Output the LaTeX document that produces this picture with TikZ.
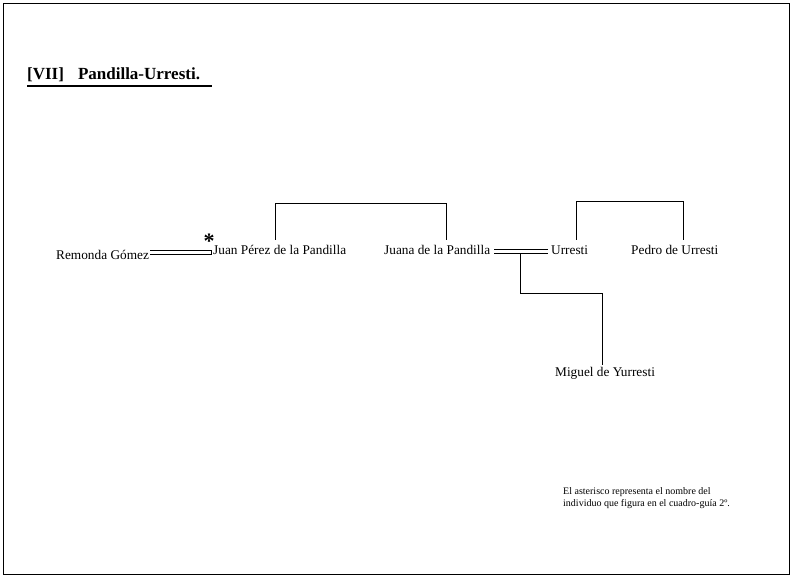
\documentclass[tikz,border=0pt]{standalone}
\usepackage{fontspec}
\setmainfont{Liberation Serif}
\begin{document}
\begin{tikzpicture}[x=1pt,y=-1pt,
  person/.style={inner sep=0pt,anchor=west,font=\fontsize{13.3}{15}\selectfont},
  link/.style={line width=0.6pt,black},
  note/.style={inner sep=0pt,anchor=north west,align=left,font=\fontsize{10}{12}\selectfont}]
\useasboundingbox (0,0) rectangle (792,577);
\draw[line width=0.8pt] (3,3) rectangle (789,574);
% title
\node[inner sep=0pt,anchor=south west,font=\bfseries\fontsize{17}{19}\selectfont] (title) at (27,82) {[VII]\hspace{14pt}Pandilla-Urresti.};
\draw[line width=1.5pt] (title.south west)++(0,4) -- ++(185,0);
% persons
\node[person] (remonda) at (56,255) {Remonda Gómez};
\node[person] (juan) at (213,250) {Juan Pérez de la Pandilla};
\node[person] (juana) at (384,250) {Juana de la Pandilla};
\node[person] (urresti) at (551,250) {Urresti};
\node[person] (pedro) at (631,250) {Pedro de Urresti};
\node[person] (miguel) at (555,373) {Miguel de Yurresti};
\node[inner sep=0pt,font=\bfseries\fontsize{22}{22}\selectfont] (ast) at (209,241) {*};
% marriage Remonda - Juan
\coordinate (m1a) at ([xshift=1pt]remonda.east |- 0,250);
\coordinate (m1b) at (211,250);
\coordinate (m1c) at ([xshift=1pt]remonda.east |- 0,254);
\coordinate (m1d) at (211,254);
\draw[link] (m1a) -- (m1b) -- (m1d) -- (m1c);
% siblings Juan - Juana
\coordinate (s1a) at (275,240);
\coordinate (s1b) at (446,240);
\draw[link] (s1a) -- (275,203) -- (446,203) -- (s1b);
% marriage Juana - Urresti
\coordinate (m2a) at (494,249.5);
\coordinate (m2b) at (548,249.5);
\coordinate (m2c) at (494,253.5);
\coordinate (m2d) at (548,253.5);
\draw[link] (m2a) -- (m2b);
\draw[link] (m2c) -- (m2d);
% child Miguel
\coordinate (c1) at (520,253.5);
\coordinate (c2) at (602,365);
\draw[link] (c1) -- (520,293) -- (602,293) -- (c2);
% siblings Urresti - Pedro
\coordinate (s2a) at (576,240);
\coordinate (s2b) at (683,240);
\draw[link] (s2a) -- (576,201) -- (683,201) -- (s2b);
% note
\node[note] (nota) at (563,487) {El asterisco representa el nombre del\\individuo que figura en el cuadro-guía 2º.};
\end{tikzpicture}
\end{document}
